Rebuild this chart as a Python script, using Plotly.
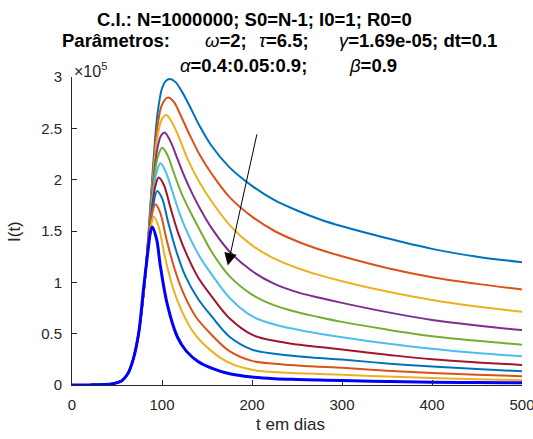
import plotly.graph_objects as go

# ---- data (I in units of 1e5) ----
alphas = ["0.40", "0.45", "0.50", "0.55", "0.60", "0.65", "0.70", "0.75", "0.80", "0.85", "0.90"]

t_rise = [0, 20, 35, 45, 55, 62, 68, 74]
I_rise = [0, 0.001, 0.004, 0.012, 0.04, 0.11, 0.25, 0.50]

t_tail = [155, 175, 200, 225, 250, 275, 300, 350, 400, 450, 500]

t_040 = [80, 85, 90, 95, 100, 104, 108.7, 115, 122, 130, 142] + t_tail
I_040 = [0.93, 1.48, 2.12, 2.64, 2.89, 2.96, 2.98, 2.95, 2.86, 2.73, 2.52,
         2.33, 2.12, 1.94, 1.80, 1.70, 1.615, 1.546, 1.43, 1.326, 1.25, 1.196]

t_045 = [80, 85, 90, 95, 100, 106.4, 113, 120, 130, 142] + t_tail
I_045 = [0.93, 1.46, 2.06, 2.52, 2.73, 2.80, 2.76, 2.64, 2.45, 2.24,
         2.06, 1.83, 1.64, 1.50, 1.40, 1.32, 1.254, 1.14, 1.05, 0.985, 0.93]

t_050 = [80, 85, 90, 95, 100, 104.7, 111, 118, 128, 140] + t_tail
I_050 = [0.93, 1.45, 2.01, 2.42, 2.59, 2.63, 2.56, 2.43, 2.21, 2.00,
         1.79, 1.56, 1.36, 1.23, 1.14, 1.07, 1.011, 0.91, 0.828, 0.765, 0.713]

t_055 = [80, 85, 90, 95, 99, 102.8, 109, 116, 125, 135, 145] + t_tail
I_055 = [0.93, 1.44, 1.96, 2.31, 2.43, 2.46, 2.38, 2.23, 2.03, 1.84, 1.675,
         1.53, 1.30, 1.11, 0.985, 0.905, 0.85, 0.80, 0.71, 0.634, 0.58, 0.535]

t_060 = [80, 85, 90, 95, 100.2, 106, 113, 122, 133, 145] + t_tail
I_060 = [0.93, 1.43, 1.91, 2.21, 2.31, 2.24, 2.07, 1.86, 1.66, 1.46,
         1.30, 1.06, 0.88, 0.775, 0.71, 0.66, 0.615, 0.54, 0.475, 0.43, 0.392]

t_065 = [80, 85, 90, 94, 98.3, 104, 111, 120, 130, 142] + t_tail
I_065 = [0.93, 1.42, 1.85, 2.07, 2.16, 2.08, 1.90, 1.66, 1.45, 1.25,
         1.08, 0.85, 0.67, 0.59, 0.54, 0.50, 0.466, 0.405, 0.353, 0.312, 0.28]

t_070 = [80, 85, 90, 93, 96.4, 102, 109, 118, 128, 140] + t_tail
I_070 = [0.93, 1.41, 1.80, 1.95, 2.02, 1.95, 1.74, 1.48, 1.26, 1.05,
         0.865, 0.65, 0.49, 0.43, 0.395, 0.37, 0.345, 0.295, 0.25, 0.22, 0.196]

t_075 = [80, 85, 90, 94.7, 100, 107, 116, 126, 140] + t_tail
I_075 = [0.94, 1.40, 1.74, 1.89, 1.82, 1.58, 1.30, 1.06, 0.84,
         0.67, 0.47, 0.345, 0.305, 0.28, 0.263, 0.248, 0.21, 0.18, 0.155, 0.134]

t_080 = [80, 85, 89, 92.8, 98, 105, 114, 124, 138] + t_tail
I_080 = [0.94, 1.39, 1.67, 1.76, 1.68, 1.42, 1.13, 0.89, 0.66,
         0.49, 0.33, 0.235, 0.207, 0.19, 0.178, 0.167, 0.14, 0.118, 0.10, 0.086]

t_085 = [80, 85, 88, 90.9, 96, 103, 112, 122, 136] + t_tail
I_085 = [0.95, 1.38, 1.56, 1.64, 1.55, 1.26, 0.95, 0.72, 0.50,
         0.33, 0.215, 0.148, 0.126, 0.115, 0.107, 0.10, 0.083, 0.068, 0.057, 0.047]

t_090 = [80, 85, 87, 89.1, 94, 98, 106, 117, 127, 140] + t_tail
I_090 = [0.98, 1.35, 1.48, 1.54, 1.42, 1.17, 0.78, 0.47, 0.33, 0.23,
         0.165, 0.11, 0.078, 0.062, 0.054, 0.048, 0.043, 0.034, 0.027, 0.024, 0.021]

x_ticks = [0, 100, 200, 300, 400, 500]
y_ticks = [0, 0.5, 1, 1.5, 2, 2.5, 3]
y_ticktext = ["0", "0.5", "1", "1.5", "2", "2.5", "3"]

# ---- styling ----
colors = ["#0072BD", "#D95319", "#EDB120", "#7E2F8E", "#77AC30", "#4DBEEE",
          "#A2142F", "#0072BD", "#D95319", "#EDB120", "#0000FF"]
widths = [2] * 10 + [3]

ts = [t_040, t_045, t_050, t_055, t_060, t_065, t_070, t_075, t_080, t_085, t_090]
Is = [I_040, I_045, I_050, I_055, I_060, I_065, I_070, I_075, I_080, I_085, I_090]

fig = go.Figure()
for a, tt, ii, c, w in zip(alphas, ts, Is, colors, widths):
    fig.add_trace(go.Scatter(
        x=t_rise + tt, y=I_rise + ii, mode="lines", name="α=" + a,
        line=dict(color=c, width=w, shape="spline", smoothing=1.0),
        showlegend=False, hoverinfo="skip"))

FONT = "Liberation Sans, Arial, Helvetica, sans-serif"
AX = "#262626"
L, R, T, B = 72, 11, 77, 54
W, H = 533, 439
PW, PH = W - L - R, H - T - B


def px(x):
    return (x - L) / PW


def py(y):
    return (H - B - y) / PH


ann = []


def txt(s, x, y, size=18.5, anchor="left", color="#000000", angle=0):
    ann.append(dict(text=s, x=px(x), y=py(y), xref="paper", yref="paper",
                    xanchor=anchor, yanchor="middle", showarrow=False,
                    textangle=angle,
                    font=dict(family=FONT, size=size, color=color)))


txt("<b>C.I.: N=1000000; S0=N-1; I0=1; R0=0</b>", 95, 20)
txt("<b>Parâmetros:</b>", 60, 40)
txt("<i>ω</i><b>=2;</b>", 203, 40)
txt("<i>τ</i><b>=6.5;</b>", 256.7, 40)
txt("<i>γ</i><b>=1.69e-05; dt=0.1</b>", 336.7, 40)
txt("<i>α</i><b>=0.4:0.05:0.9;</b>", 178, 65)
txt("<i>β</i><b>=0.9</b>", 346.7, 65)

txt("×10<sup>5</sup>", 72, 70, size=16, color=AX)
txt("t em dias", 290, 424, size=17, anchor="center", color=AX)
txt("I(t)", 14, 232, size=17, anchor="center", color=AX, angle=-90)

# arrow
ann.append(dict(x=173.1, y=1.163, ax=205.8, ay=2.456, xref="x", yref="y",
                axref="x", ayref="y", text="", showarrow=True, arrowhead=2,
                arrowsize=2.5, arrowwidth=1, arrowcolor="#000000"))

fig.update_layout(
    width=W, height=H, margin=dict(l=L, r=R, t=T, b=B, autoexpand=False),
    paper_bgcolor="white", plot_bgcolor="white",
    font=dict(family=FONT, color=AX, size=15),
    annotations=ann,
    xaxis=dict(range=[0, 500], tickvals=x_ticks, ticks="inside", ticklen=5,
               tickcolor=AX, showline=True, linecolor=AX, linewidth=1,
               showgrid=False, zeroline=False, tickfont=dict(size=15, color=AX),
               automargin=False, ticklabeloverflow="allow", ticklabelstandoff=6),
    yaxis=dict(range=[0, 3], tickvals=y_ticks, ticktext=y_ticktext, ticks="inside",
               ticklen=5, tickcolor=AX, showline=True, linecolor=AX, linewidth=1,
               showgrid=False, zeroline=False, tickfont=dict(size=15, color=AX),
               automargin=False, ticklabeloverflow="allow", ticklabelstandoff=6),
)

fig.write_html("out.html", config={"displayModeBar": False},
               post_script="document.body.style.margin='0';document.body.style.overflow='hidden';")
